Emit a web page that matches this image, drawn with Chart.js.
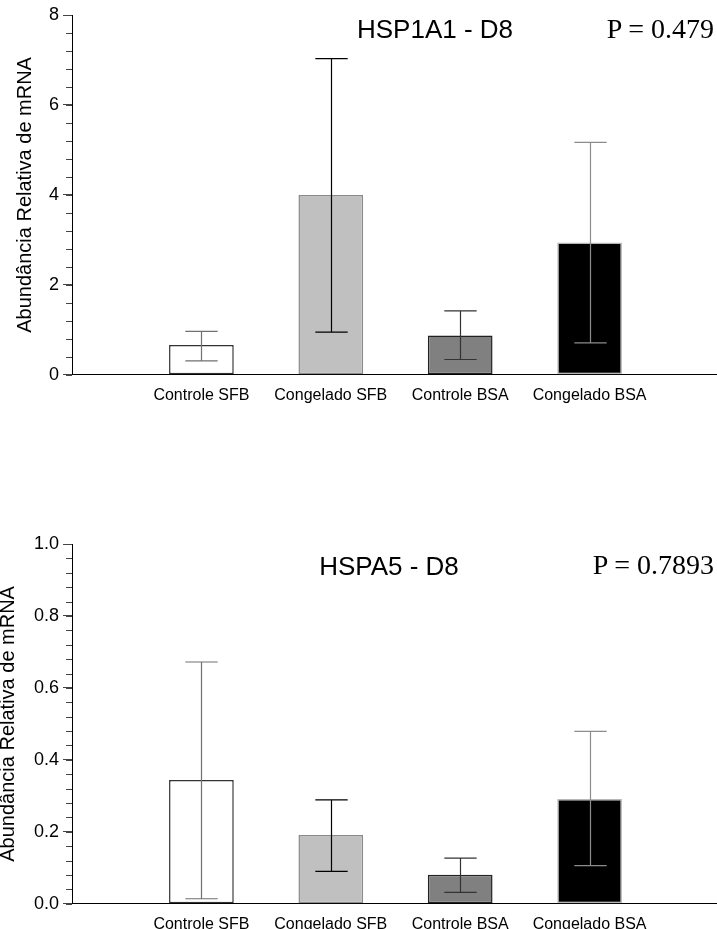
<!DOCTYPE html>
<html>
<head>
<meta charset="utf-8">
<script src="https://cdn.jsdelivr.net/npm/chart.js@4/dist/chart.umd.min.js"></script>
<style>
  body { margin: 0; background: #fff; }
  #page { position: relative; width: 717px; height: 929px; overflow: hidden; font-family: "Liberation Sans", Arial, sans-serif; }
  canvas { position: absolute; left: 0; }
  .title { position: absolute; font-size: 26px; line-height: 26px; white-space: nowrap; color: #000; transform: translateX(-50%); }
  .pval { position: absolute; right: 3px; font-family: "Liberation Serif", "Times New Roman", serif; font-size: 28px; line-height: 28px; white-space: nowrap; color: #000; }
</style>
</head>
<body>
<div id="page">
  <canvas id="hsp1a1" width="722" height="410" style="top:0"></canvas>
  <canvas id="hspa5" width="722" height="410" style="top:529px"></canvas>
  <div class="title" style="left:435px; top:16px">HSP1A1 - D8</div>
  <div class="pval" style="top:15px">P = 0.479</div>
  <div class="title" style="left:389px; top:553px">HSPA5 - D8</div>
  <div class="pval" style="top:551px">P = 0.7893</div>
</div>
<script>
// data
const categories = ['Controle SFB', 'Congelado SFB', 'Controle BSA', 'Congelado BSA'];

const hsp1a1Mean = [0.66, 4.0, 0.875, 2.94];
const hsp1a1Low = [0.31, 0.95, 0.34, 0.71];
const hsp1a1High = [0.965, 7.03, 1.42, 5.17];
const hsp1a1Ticks = [0, 2, 4, 6, 8];

const hspa5Mean = [0.344, 0.191, 0.081, 0.291];
const hspa5Low = [0.014, 0.090, 0.032, 0.106];
const hspa5High = [0.672, 0.289, 0.127, 0.479];
const hspa5Ticks = [0, 0.2, 0.4, 0.6, 0.8, 1.0];

// styles
const barFill = ['#ffffff', '#c0c0c0', '#808080', '#000000'];
const barEdge = ['#333333', '#8a8a8a', '#222222', '#b8b8b8'];
const whiskerColor = ['#707070', '#000000', '#333333', '#8c8c8c'];
const FONT = '"Liberation Sans", Arial, sans-serif';

// error bars + minor ticks on the y axis
const errorBars = {
  id: 'errorBars',
  afterDatasetsDraw(chart, args, opts) {
    const { ctx, chartArea } = chart;
    const y = chart.scales.y;
    const bars = chart.getDatasetMeta(0).data;
    ctx.save();
    ctx.lineWidth = 1.2;
    opts.low.forEach((lo, i) => {
      const bar = bars[i + 1];
      const x = Math.round(bar.x) + 0.5;
      const half = bar.width / 4;
      const y1 = y.getPixelForValue(lo);
      const y2 = y.getPixelForValue(opts.high[i]);
      ctx.strokeStyle = whiskerColor[i];
      ctx.beginPath();
      ctx.moveTo(x, y1); ctx.lineTo(x, y2);
      ctx.moveTo(x - half, y1); ctx.lineTo(x + half, y1);
      ctx.moveTo(x - half, y2); ctx.lineTo(x + half, y2);
      ctx.stroke();
    });

    // minor ticks
    const n = Math.round(y.max / opts.minorStep);
    ctx.strokeStyle = '#444';
    ctx.lineWidth = 1;
    ctx.beginPath();
    for (let k = 0; k <= n; k++) {
      const py = Math.round(y.getPixelForValue(k * opts.minorStep)) + 0.5;
      ctx.moveTo(chartArea.left - 6, py);
      ctx.lineTo(chartArea.left, py);
    }
    ctx.stroke();
    ctx.restore();
  }
};

function makeChart(id, means, low, high, ticks, minorStep, fmt, titlePad) {
  new Chart(document.getElementById(id), {
    type: 'bar',
    data: {
      labels: ['', ...categories, ''],
      datasets: [{
        data: [null, ...means, null],
        backgroundColor: c => barFill[c.dataIndex - 1] || '#fff',
        borderColor: c => barEdge[c.dataIndex - 1] || '#000',
        borderWidth: 1.5,
        borderSkipped: false,
        barPercentage: 0.5,
        categoryPercentage: 1
      }]
    },
    options: {
      responsive: false,
      animation: false,
      devicePixelRatio: 1,
      layout: { padding: { top: 15, right: 0, bottom: 2, left: 0 } },
      plugins: {
        legend: { display: false },
        tooltip: { enabled: false },
        errorBars: { low, high, minorStep }
      },
      scales: {
        x: {
          offset: false,
          grid: { display: false },
          border: { display: true, color: '#000', width: 1 },
          ticks: { color: '#000', font: { size: 16, family: FONT }, padding: 3, maxRotation: 0, autoSkip: false }
        },
        y: {
          min: 0,
          max: ticks[ticks.length - 1],
          afterBuildTicks: s => { s.ticks = ticks.map(v => ({ value: v })); },
          afterFit: s => { s.width = 72; },
          grid: { display: true, drawOnChartArea: false, drawTicks: true, tickLength: 9, color: '#444' },
          border: { display: true, color: '#000', width: 1 },
          ticks: { color: '#000', font: { size: 18, family: FONT }, padding: 4, callback: v => fmt(v) },
          title: {
            display: true,
            text: 'Abundância Relativa de mRNA',
            color: '#000',
            font: { size: 20, family: FONT },
            padding: { top: titlePad, bottom: 0 }
          }
        }
      }
    },
    plugins: [errorBars]
  });
}

makeChart('hsp1a1', hsp1a1Mean, hsp1a1Low, hsp1a1High, hsp1a1Ticks, 0.4, v => String(v), 13);
makeChart('hspa5', hspa5Mean, hspa5Low, hspa5High, hspa5Ticks, 0.04, v => v.toFixed(1), -4);
</script>
</body>
</html>
